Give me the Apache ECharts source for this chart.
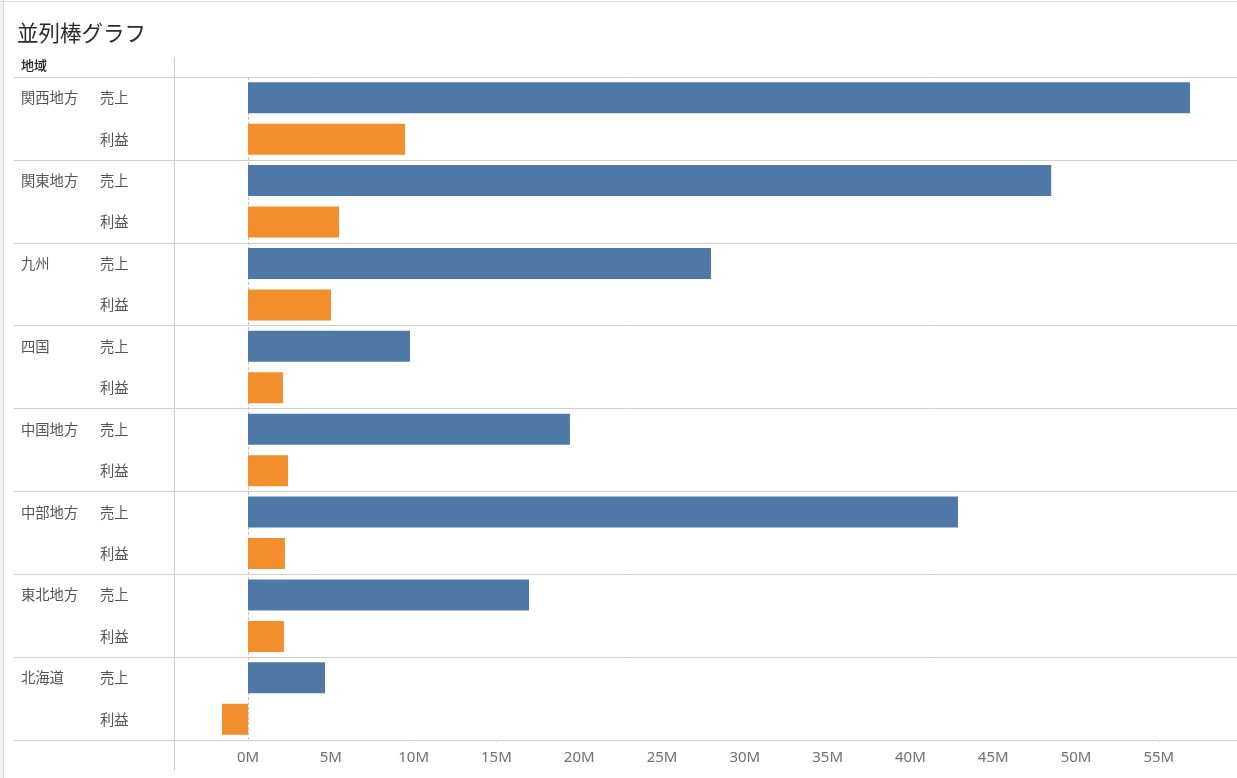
<!DOCTYPE html>
<html>
<head>
<meta charset="utf-8">
<script src="https://cdn.jsdelivr.net/npm/echarts@6/dist/echarts.min.js"></script>
<style>
html,body{margin:0;padding:0;background:#fff;}
#c{width:1237px;height:778px;}
</style>
</head>
<body>
<div id="c"></div>
<script>
const title = '並列棒グラフ';
const headerLabel = '地域';
const regions = ['関西地方','関東地方','九州','四国','中国地方','中部地方','東北地方','北海道'];
const measures = ['売上','利益'];
// values in millions (M)
const sales  = [56.88, 48.50, 27.96, 9.78, 19.44, 42.87, 16.97, 4.65];
const profit = [9.48, 5.50, 5.01, 2.11, 2.42, 2.23, 2.17, -1.57];
const measureColors = ['#4e79a7', '#f28e2b'];

const rows = [];
const barData = [];
regions.forEach((r, i) => {
  [sales[i], profit[i]].forEach((v, j) => {
    rows.push(r + '|' + measures[j]);
    barData.push({ value: v, itemStyle: { color: measureColors[j] } });
  });
});

const chart = echarts.init(document.getElementById('c'), null, { renderer: 'canvas' });
const jp = '"Noto Sans CJK JP", "Noto Sans", sans-serif';
const lineCol = '#cfcfcf';

chart.setOption({
  animation: false,
  title: {
    text: title, left: 12, top: 17,
    textStyle: { fontFamily: jp, fontSize: 21.5, fontWeight: 'normal', color: '#2b2b2b' }
  },
  grid: [
    { left: 165.2, right: 0, top: 77, bottom: 38, containLabel: false },
    { left: 14, right: 0, top: 77, bottom: 38, containLabel: false }
  ],
  xAxis: [
    {
      gridIndex: 0, type: 'value', min: -5, max: 59.72, interval: 5,
      axisLine: { show: false },
      axisTick: { show: true, length: 3, lineStyle: { color: '#e6e6e6' } },
      splitLine: { show: false },
      axisLabel: {
        showMinLabel: false, showMaxLabel: false, margin: 10,
        fontFamily: '"Noto Sans", sans-serif', fontSize: 15, color: '#707078',
        formatter: v => v + 'M'
      }
    },
    { gridIndex: 1, type: 'value', show: false, min: 0, max: 1 }
  ],
  yAxis: [
    {
      gridIndex: 0, type: 'category', data: rows, inverse: true,
      axisLine: { show: false }, axisTick: { show: false },
      splitLine: { show: false },
      axisLabel: {
        align: 'left', margin: 144.2,
        formatter: (val, idx) => {
          const p = val.split('|');
          return (idx % 2 === 0 ? '{r|' + p[0] + '}' : '{r| }') + '{m|' + p[1] + '}';
        },
        rich: {
          r: { width: 79, fontFamily: jp, fontSize: 14.3, color: '#555' },
          m: { fontFamily: jp, fontSize: 14.3, color: '#555' }
        }
      }
    },
    {
      gridIndex: 1, type: 'category', data: regions, inverse: true,
      axisLine: { show: false }, axisTick: { show: false }, axisLabel: { show: false },
      splitLine: { show: true, lineStyle: { color: lineCol, width: 1 } }
    }
  ],
  series: [
    {
      type: 'bar', xAxisIndex: 0, yAxisIndex: 0, data: barData, barWidth: 31, z: 3,
      markLine: {
        z: 1, silent: true, symbol: 'none', label: { show: false },
        lineStyle: { type: [3, 2], color: '#c4c4c4', width: 1 },
        data: [{ xAxis: 0 }]
      }
    }
  ],
  graphic: [
    { type: 'rect', shape: { x: 0, y: 0, width: 3, height: 778 }, style: { fill: '#f2f2f2' }, silent: true },
    { type: 'line', shape: { x1: 3.5, y1: 0, x2: 3.5, y2: 778 }, style: { stroke: '#dadada', lineWidth: 1 }, silent: true },
    { type: 'line', shape: { x1: 0, y1: 1.5, x2: 1237, y2: 1.5 }, style: { stroke: '#dedede', lineWidth: 1 }, silent: true },
    { type: 'line', shape: { x1: 174.5, y1: 57, x2: 174.5, y2: 770 }, style: { stroke: lineCol, lineWidth: 1 }, silent: true },
    { type: 'text', left: 21, top: 59, style: { text: headerLabel, font: '500 13px ' + jp, fill: '#222' }, silent: true }
  ]
});
</script>
</body>
</html>
